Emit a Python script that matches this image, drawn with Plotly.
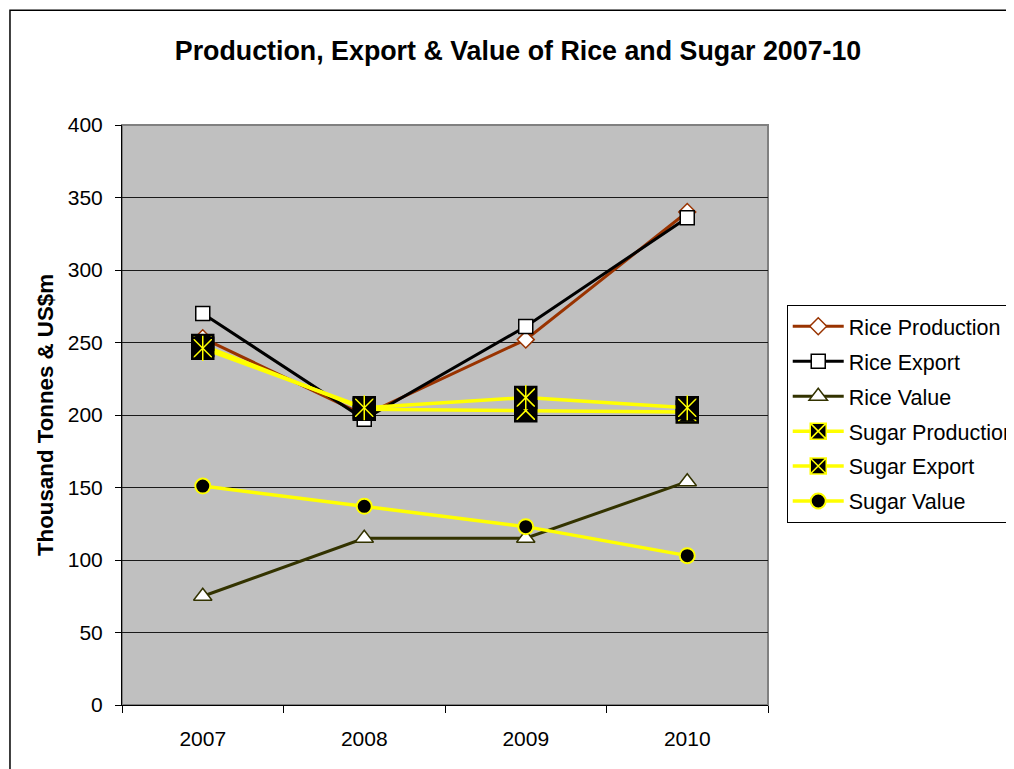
import plotly.graph_objects as go

years = ["2007", "2008", "2009", "2010"]
rice_production = [253, 200, 252, 340]
rice_export = [270, 197, 261, 336]
rice_value = [75, 115, 115, 154]
sugar_production = [248, 204, 203, 202]
sugar_export = [246, 205, 212, 205]
sugar_value = [151, 137, 123, 103]

FONT = "Liberation Sans, Arial, sans-serif"
YELLOW = "#FFFF00"
SQ = 21

fig = go.Figure()

fig.add_trace(go.Scatter(x=years, y=rice_production, name="Rice Production", mode="lines+markers",
                         legendgroup="a",
                         line=dict(color="#993300", width=3),
                         marker=dict(symbol="diamond", size=13, color="white",
                                     line=dict(color="#993300", width=1.5))))
fig.add_trace(go.Scatter(x=years, y=rice_export, name="Rice Export", mode="lines+markers",
                         legendgroup="b",
                         line=dict(color="black", width=3),
                         marker=dict(symbol="square", size=14, color="white",
                                     line=dict(color="black", width=1.5))))
fig.add_trace(go.Scatter(x=years, y=rice_value, name="Rice Value", mode="lines+markers",
                         legendgroup="c",
                         line=dict(color="#333300", width=3),
                         marker=dict(symbol="triangle-up", size=16, color="white",
                                     line=dict(color="#333300", width=1.5))))

# Sugar Production: black square with yellow X
fig.add_trace(go.Scatter(x=years, y=sugar_production, name="Sugar Production", mode="lines+markers",
                         legendgroup="d",
                         line=dict(color=YELLOW, width=3.5),
                         marker=dict(symbol="square-x", size=SQ, color="black",
                                     line=dict(color=YELLOW, width=1.5))))
fig.add_trace(go.Scatter(x=years, y=sugar_production, mode="markers", showlegend=False,
                         legendgroup="d", hoverinfo="skip",
                         marker=dict(symbol="square-open", size=SQ, color="black",
                                     line=dict(color="black", width=2.5))))

# Sugar Export: black square with yellow asterisk
fig.add_trace(go.Scatter(x=years, y=sugar_export, name="Sugar Export", mode="lines+markers",
                         legendgroup="e",
                         line=dict(color=YELLOW, width=3.5),
                         marker=dict(symbol="square-x", size=SQ, color="black",
                                     line=dict(color=YELLOW, width=1.5))))
fig.add_trace(go.Scatter(x=years, y=sugar_export, mode="markers", showlegend=False,
                         legendgroup="e", hoverinfo="skip",
                         marker=dict(symbol="square-open", size=SQ, color="black",
                                     line=dict(color="black", width=2.5))))
fig.add_trace(go.Scatter(x=years, y=sugar_export, mode="markers", showlegend=False,
                         legendgroup="e", hoverinfo="skip",
                         marker=dict(symbol="line-ns-open", size=18, color=YELLOW,
                                     line=dict(color=YELLOW, width=1.5))))

fig.add_trace(go.Scatter(x=years, y=sugar_value, name="Sugar Value", mode="lines+markers",
                         legendgroup="f",
                         line=dict(color=YELLOW, width=3.5),
                         marker=dict(symbol="circle", size=15, color="black",
                                     line=dict(color=YELLOW, width=2))))

fig.update_layout(
    width=1014, height=769,
    margin=dict(l=114, r=254, t=117, b=72, autoexpand=False),
    paper_bgcolor="white",
    plot_bgcolor="#C0C0C0",
    font=dict(family=FONT, color="black", size=21),
    title=dict(text="<b>Production, Export & Value of Rice and Sugar 2007-10</b>",
               x=0.503, xanchor="center", y=0.945, yanchor="middle",
               font=dict(size=26.8, family=FONT, color="black")),
    showlegend=True,
    legend=dict(x=1.029, xanchor="left", y=0.69, yanchor="top",
                bgcolor="white", bordercolor="black", borderwidth=1,
                font=dict(size=21.5, family=FONT, color="black"),
                traceorder="grouped", tracegroupgap=4, itemwidth=51),
    xaxis=dict(type="category", tickson="boundaries", ticks="outside", ticklen=7,
               tickcolor="black", showline=True, linecolor="black", linewidth=1,
               showgrid=False, ticklabelstandoff=15, range=[-0.5, 3.5],
               tickfont=dict(size=21)),
    yaxis=dict(range=[0, 400], dtick=50, ticks="outside", ticklen=6, tickcolor="black",
               showline=True, linecolor="black", linewidth=1,
               showgrid=True, gridcolor="#1a1a1a", gridwidth=1, zeroline=False,
               ticklabelstandoff=8, tickfont=dict(size=21),
               title=dict(text="<b>Thousand Tonnes & US$m</b>", font=dict(size=22.3), standoff=7)),
    shapes=[
        dict(type="rect", xref="paper", yref="paper", x0=0, x1=1, y0=0, y1=1,
             line=dict(color="#808080", width=2), layer="below"),
        dict(type="rect", xref="paper", yref="paper", x0=-0.1734, x1=2.0, y0=-0.3, y1=1.198,
             line=dict(color="black", width=1.5), fillcolor="rgba(0,0,0,0)", layer="above"),
    ],
)

fig.write_html("out.html")
